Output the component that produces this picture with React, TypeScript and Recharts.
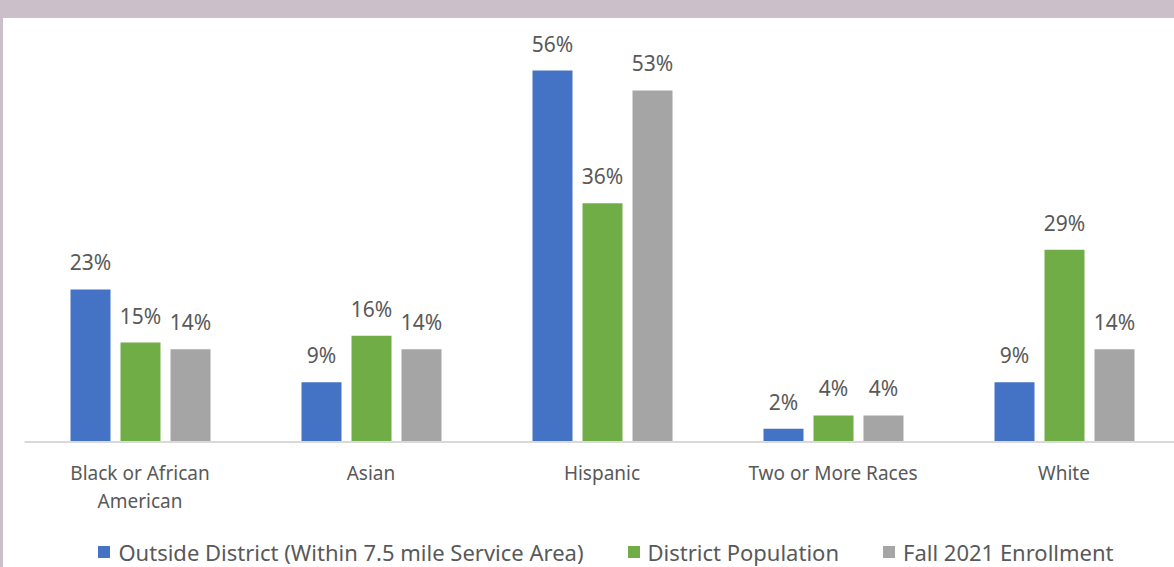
import React from "react";
import { BarChart, Bar, XAxis, YAxis, Legend, LabelList } from "recharts";

const categories = ["Black or African American", "Asian", "Hispanic", "Two or More Races", "White"];
const outsideDistrict = [23, 9, 56, 2, 9];
const districtPopulation = [15, 16, 36, 4, 29];
const fall2021Enrollment = [14, 14, 53, 4, 14];

const seriesNames = [
  "Outside District (Within 7.5 mile Service Area)",
  "District Population",
  "Fall 2021 Enrollment",
];

const data = categories.map((c, i) => ({
  name: c,
  outside: outsideDistrict[i],
  district: districtPopulation[i],
  fall: fall2021Enrollment[i],
}));

const TEXT = "#595959";
const FONT = "'Noto Sans', sans-serif";

// greedy word wrap, the category names are short
const wrapLabel = (s: string, maxChars: number) => {
  const lines: string[] = [];
  let cur = "";
  s.split(" ").forEach((w) => {
    const next = cur ? cur + " " + w : w;
    if (next.length > maxChars && cur) {
      lines.push(cur);
      cur = w;
    } else {
      cur = next;
    }
  });
  if (cur) lines.push(cur);
  return lines;
};

const CategoryTick = (props: any) => {
  const { x, y, payload } = props;
  const lines = wrapLabel(String(payload.value), 17);
  return (
    <text x={x} y={y + 30} textAnchor="middle" fontSize={19} fontFamily={FONT} fill={TEXT}>
      {lines.map((l, i) => (
        <tspan key={i} x={x} dy={i === 0 ? 0 : 28}>
          {l}
        </tspan>
      ))}
    </text>
  );
};

const LegendContent = (props: any) => {
  const items = [...(props.payload || [])].sort(
    (a: any, b: any) => seriesNames.indexOf(a.value) - seriesNames.indexOf(b.value)
  );
  return (
    <div
      style={{
        display: "flex",
        justifyContent: "center",
        alignItems: "center",
        height: 30,
        gap: 44,
        fontFamily: FONT,
        fontSize: 22,
        color: TEXT,
        paddingLeft: 8,
      }}
    >
      {items.map((p: any) => (
        <div key={p.value} style={{ display: "flex", alignItems: "center" }}>
          <span style={{ width: 12, height: 12, background: p.color, marginRight: 8, display: "inline-block" }} />
          <span>{p.value}</span>
        </div>
      ))}
    </div>
  );
};

const pct = (v: any) => `${v}%`;

export default function App() {
  return (
    <div
      style={{
        position: "fixed",
        left: 0,
        top: 0,
        width: 1174,
        height: 567,
        background: "#CBC0C9",
        overflow: "hidden",
      }}
    >
      <div style={{ position: "absolute", left: 3, top: 18, width: 1180, height: 560, background: "#fff" }} />
      <div style={{ position: "absolute", left: 0, top: 0 }}>
        <BarChart
          width={1210}
          height={567}
          data={data}
          margin={{ top: 44, right: 30.5, bottom: 35, left: 24.5 }}
          barCategoryGap={44}
          barGap={10}
        >
          <XAxis
            dataKey="name"
            tickLine={false}
            axisLine={{ stroke: "#D9D9D9", strokeWidth: 2 }}
            tick={<CategoryTick />}
            interval={0}
            height={60}
          />
          <YAxis hide domain={[0, 60]} />
          <Legend verticalAlign="bottom" content={<LegendContent />} wrapperStyle={{ bottom: 0 }} />
          <Bar dataKey="outside" name={seriesNames[0]} fill="#4472C4" barSize={40} isAnimationActive={false}>
            <LabelList dataKey="outside" position="top" offset={19} formatter={pct} fill={TEXT} fontSize={21} fontFamily={FONT} />
          </Bar>
          <Bar dataKey="district" name={seriesNames[1]} fill="#70AD47" barSize={40} isAnimationActive={false}>
            <LabelList dataKey="district" position="top" offset={19} formatter={pct} fill={TEXT} fontSize={21} fontFamily={FONT} />
          </Bar>
          <Bar dataKey="fall" name={seriesNames[2]} fill="#A5A5A5" barSize={40} isAnimationActive={false}>
            <LabelList dataKey="fall" position="top" offset={19} formatter={pct} fill={TEXT} fontSize={21} fontFamily={FONT} />
          </Bar>
        </BarChart>
      </div>
    </div>
  );
}
